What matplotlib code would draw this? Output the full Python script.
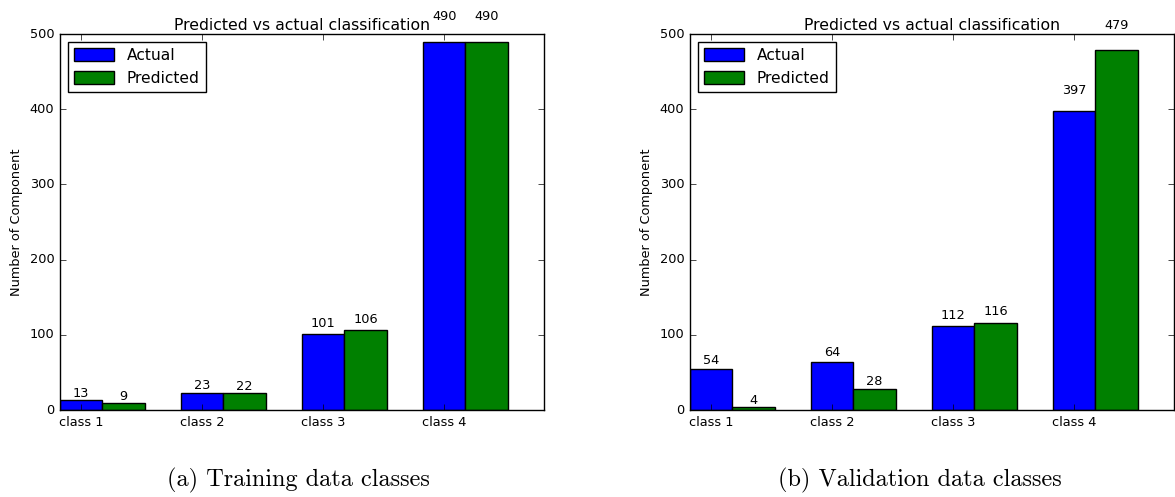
import numpy as np
import matplotlib
matplotlib.use("Agg")
import matplotlib.pyplot as plt

plt.style.use("classic")

classes = ["class 1", "class 2", "class 3", "class 4"]
train_actual = [13, 23, 101, 490]
train_pred = [9, 22, 106, 490]
val_actual = [54, 64, 112, 397]
val_pred = [4, 28, 116, 479]
captions = ["(a) Training data classes", "(b) Validation data classes"]

width = 0.35
index = np.arange(len(classes))

fig = plt.figure(figsize=(11.75, 4.97), dpi=100)
fig.patch.set_facecolor("white")
ax1 = fig.add_axes([60 / 1175, 87 / 497, 484 / 1175, 376 / 497])
ax2 = fig.add_axes([690 / 1175, 87 / 497, 484 / 1175, 376 / 497])


def autolabel(ax, rects):
    for rect in rects:
        h = rect.get_height()
        ax.text(rect.get_x() + rect.get_width() / 2., 1.05 * h, "%d" % int(h),
                ha="center", va="bottom", fontsize=9.3)


for ax, actual, pred in [(ax1, train_actual, train_pred), (ax2, val_actual, val_pred)]:
    r1 = ax.bar(index, actual, width, color="b", edgecolor="k", align="edge", label="Actual")
    r2 = ax.bar(index + width, pred, width, color="g", edgecolor="k", align="edge", label="Predicted")
    autolabel(ax, r1)
    autolabel(ax, r2)
    ax.set_xlim(0, 4)
    ax.set_ylim(0, 500)
    ax.set_xticks(index + width / 2)
    ax.set_xticklabels(classes)
    ax.tick_params(labelsize=9.3)
    ax.set_ylabel("Number of Component", fontsize=9.3)
    ax.set_title("Predicted vs actual classification", fontsize=11.3, pad=3)
    ax.legend(loc="upper left", fontsize=11.2, handlelength=2.6, handleheight=0.85)

fig.text(298 / 1175, 1 - 480 / 497, captions[0], family="cmr10", fontsize=17.5,
         ha="center", va="center")
fig.text(920 / 1175, 1 - 480 / 497, captions[1], family="cmr10", fontsize=17.5,
         ha="center", va="center")

fig.savefig("out.png", dpi=100, facecolor="white")
